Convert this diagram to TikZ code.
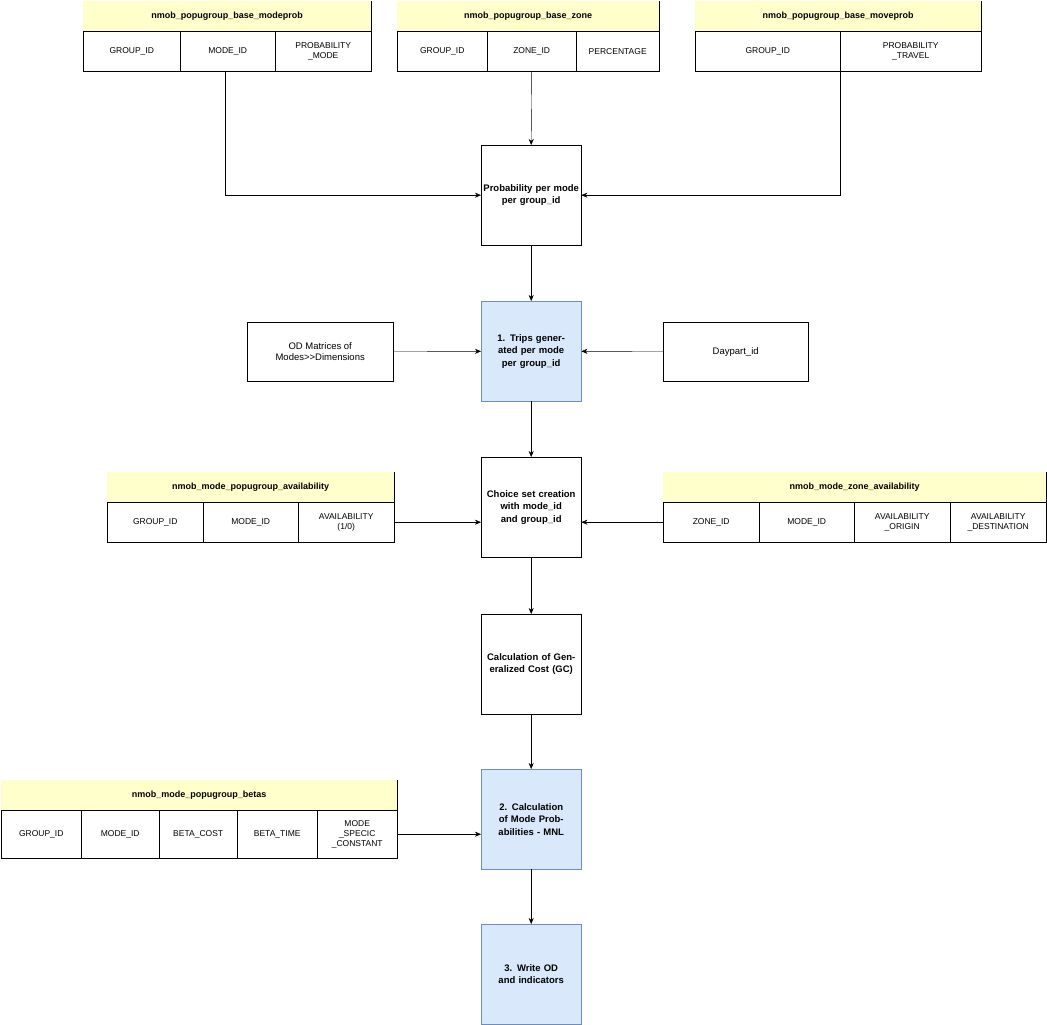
\documentclass[tikz,border=0pt]{standalone}
\usepackage{fontspec}
\setmainfont{Liberation Sans}
\usetikzlibrary{positioning,arrows.meta}
\definecolor{stagefill}{HTML}{DAE8FC}
\definecolor{stageline}{HTML}{6C8EBF}
\definecolor{hlfill}{HTML}{FFFFCC}
\tikzset{
    cell/.style={draw, inner sep=0pt, anchor=north west, align=center,
        font=\fontsize{8.5}{10}\selectfont},
    head/.style={cell, font=\fontsize{9}{10}\selectfont\bfseries},
    stage/.style={draw, inner sep=0pt, anchor=north west, align=center,
        minimum width=100pt, minimum height=100pt, text width=96pt,
        font=\fontsize{9.5}{12.5}\selectfont\bfseries},
    stageblue/.style={stage, fill=stagefill, draw=stageline},
    inbox/.style={cell, font=\fontsize{9.5}{11}\selectfont},
    hl/.style={fill=hlfill, inner sep=1pt},
    flow/.style={-{Stealth[length=6pt,width=5pt]}}
}
\newcommand{\hltext}[1]{\tikz[baseline=(h.base)]\node[hl](h){#1};}
\begin{document}
\begin{tikzpicture}[x=1pt,y=-1pt]
\useasboundingbox (0,0) rectangle (1047,1025);
% top tables
\node[head, minimum width=288pt, minimum height=30pt] (t1) at (83,1) {\hltext{nmob\_popugroup\_base\_modeprob}};
\node[cell, minimum width=97pt, minimum height=40pt] (t1a) at (83,31) {GROUP\_ID};
\node[cell, minimum width=95pt, minimum height=40pt] (t1b) at (180,31) {MODE\_ID};
\node[cell, minimum width=96pt, minimum height=40pt] (t1c) at (275,31) {PROBABILITY\\\_MODE};
\node[head, minimum width=262pt, minimum height=30pt] (t2) at (397,1) {\hltext{nmob\_popugroup\_base\_zone}};
\node[cell, minimum width=90pt, minimum height=40pt] (t2a) at (397,31) {GROUP\_ID};
\node[cell, minimum width=89pt, minimum height=40pt] (t2b) at (487,31) {ZONE\_ID};
\node[cell, minimum width=83pt, minimum height=40pt] (t2c) at (576,31) {PERCENTAGE};
\node[head, minimum width=286pt, minimum height=30pt] (t3) at (695,1) {\hltext{nmob\_popugroup\_base\_moveprob}};
\node[cell, minimum width=145pt, minimum height=40pt] (t3a) at (695,31) {GROUP\_ID};
\node[cell, minimum width=141pt, minimum height=40pt] (t3b) at (840,31) {PROBABILITY\\\_TRAVEL};
% stages
\node[stage] (prob) at (481,145) {Probability per mode\\per group\_id};
\node[stageblue] (trips) at (481,301) {1. Trips generated per mode\\per group\_id};
\node[inbox, minimum width=146pt, minimum height=59pt] (od) at (247,322) {OD Matrices of\\Modes>{}>Dimensions};
\node[inbox, minimum width=145pt, minimum height=59pt] (day) at (663,322) {Daypart\_id};
\node[stage] (choice) at (481,457) {Choice set creation with mode\_id and group\_id};
\node[stage] (gc) at (481,614) {Calculation of Generalized Cost (GC)};
\node[stageblue] (mnl) at (481,769) {2. Calculation of Mode Probabilities - MNL};
\node[stageblue] (write) at (481,924) {3. Write OD and indicators};
% availability tables
\node[head, minimum width=287pt, minimum height=30pt] (av) at (107,472) {\hltext{nmob\_mode\_popugroup\_availability}};
\node[cell, minimum width=96pt, minimum height=40pt] (ava) at (107,502) {GROUP\_ID};
\node[cell, minimum width=95pt, minimum height=40pt] (avb) at (203,502) {MODE\_ID};
\node[cell, minimum width=96pt, minimum height=40pt] (avc) at (298,502) {AVAILABILITY\\(1/0)};
\node[head, minimum width=383pt, minimum height=30pt] (zn) at (663,472) {\hltext{nmob\_mode\_zone\_availability}};
\node[cell, minimum width=96pt, minimum height=40pt] (zna) at (663,502) {ZONE\_ID};
\node[cell, minimum width=95pt, minimum height=40pt] (znb) at (759,502) {MODE\_ID};
\node[cell, minimum width=96pt, minimum height=40pt] (znc) at (854,502) {AVAILABILITY\\\_ORIGIN};
\node[cell, minimum width=96pt, minimum height=40pt] (znd) at (950,502) {AVAILABILITY\\\_DESTINATION};
% betas
\node[head, minimum width=396pt, minimum height=30pt] (bt) at (1,780) {\hltext{nmob\_mode\_popugroup\_betas}};
\node[cell, minimum width=80pt, minimum height=48pt] (bta) at (1,810) {GROUP\_ID};
\node[cell, minimum width=78pt, minimum height=48pt] (btb) at (81,810) {MODE\_ID};
\node[cell, minimum width=78pt, minimum height=48pt] (btc) at (159,810) {BETA\_COST};
\node[cell, minimum width=80pt, minimum height=48pt] (btd) at (237,810) {BETA\_TIME};
\node[cell, minimum width=80pt, minimum height=48pt] (bte) at (317,810) {MODE\\\_SPECIC\\\_CONSTANT};
% connectors
\draw[flow] (t1b.south west) ++(45,0) |- (prob.west);
\draw[flow] (t2b.south) -- (prob.north);
\draw[flow] (t3b.south west) |- (prob.east);
\draw[flow] (prob) -- (trips);
\draw[flow] (od) -- (trips);
\draw[flow] (day) -- (trips);
\draw[flow] (trips) -- (choice);
\draw[flow] (avc.east) -- (choice.west |- avc.east);
\draw[flow] (zna.west) -- (choice.east |- zna.west);
\draw[flow] (choice) -- (gc);
\draw[flow] (gc) -- (mnl);
\draw[flow] (bte.east) -- (mnl.west |- bte.east);
\draw[flow] (mnl) -- (write);
\end{tikzpicture}
\end{document}
